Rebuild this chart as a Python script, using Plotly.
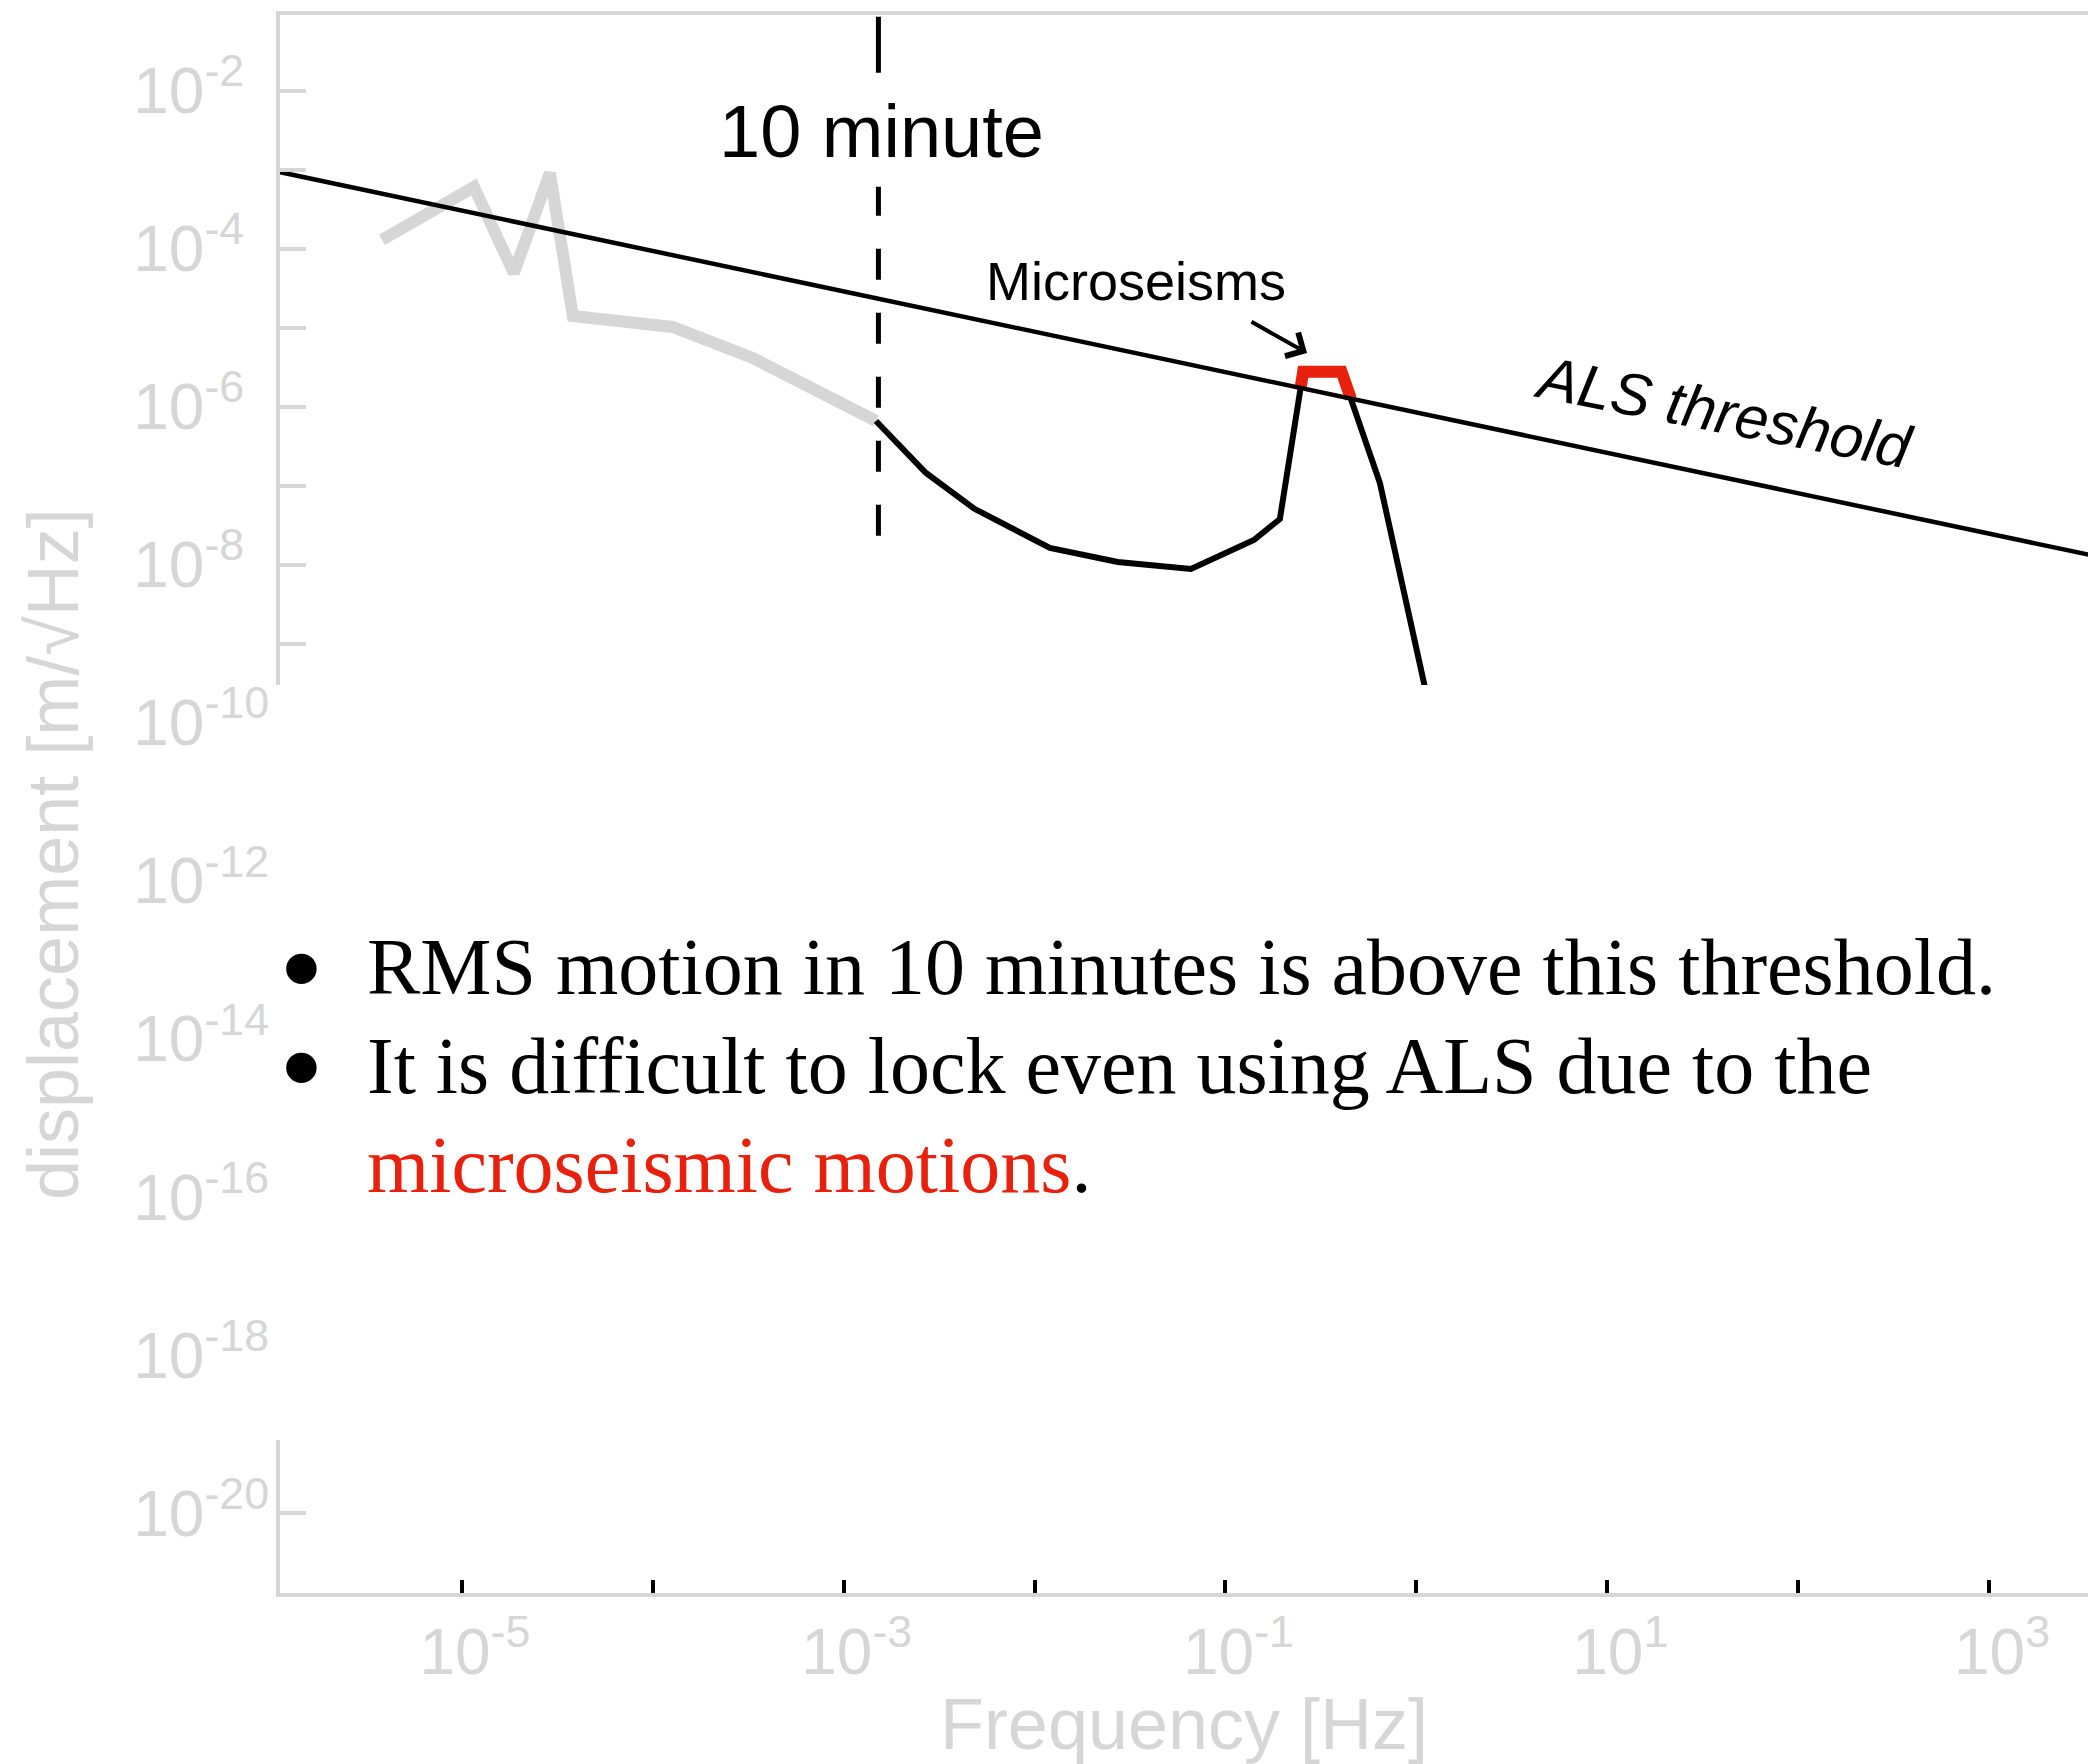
import math
import plotly.graph_objects as go

# ---- data -------------------------------------------------------------
# low-frequency part of the spectrum (light gray)
gray_freq = [3.81e-6, 1.156e-5, 1.871e-5, 2.891e-5, 3.81e-5, 1.271e-4, 3.334e-4, 1.476e-3]
gray_disp = [1.29e-4, 6.03e-4, 4.92e-5, 9.06e-4, 1.406e-5, 1.021e-5, 4.14e-6, 6.61e-7]

# spectrum above the 10 minute line (black)
black_freq = [1.476e-3, 2.698e-3, 4.864e-3, 1.202e-2, 2.729e-2, 6.592e-2,
              0.1409, 0.1928, 0.2553, 0.4055, 0.6442, 1.496]
black_disp = [6.61e-7, 1.452e-7, 5.08e-8, 1.633e-8, 1.086e-8, 8.85e-9,
              2.061e-8, 3.80e-8, 2.78e-6, 2.78e-6, 1.084e-7, 1.06e-11]

# microseismic peak, the part above the ALS threshold (red)
red_freq = [0.2474, 0.2553, 0.4055, 0.4539]
red_disp = [1.73e-6, 2.78e-6, 2.78e-6, 1.268e-6]

# ALS threshold line
threshold_freq = [1.0e-6, 3.8e3]
threshold_disp = [9.82e-4, 1.256e-8]

# 10 minute marker
ten_minute_freq = 1.52e-3
ten_minute_span = [2.34e-8, 8.89e-2]

# axis ticks
x_tick_vals = [1e-5, 1e-4, 1e-3, 1e-2, 1e-1, 1e0, 1e1, 1e2, 1e3]
x_tick_text = ["10<sup>-5</sup>", "", "10<sup>-3</sup>", "", "10<sup>-1</sup>", "",
               "10<sup>1</sup>", "", "10<sup>3</sup>"]
y_exponents = list(range(-21, -1))
y_tick_vals = [10.0 ** e for e in y_exponents]
# labels on even decades; one-digit exponents get a trailing figure space so
# all labels line up on their left edge
y_tick_text = [
    (f"10<sup>{e}</sup>" if e <= -10 else f"10<sup>{e}\u2007</sup>") if e % 2 == 0 else ""
    for e in y_exponents
]

x_range_hz = (1.114e-6, 3.30e3)
y_range_disp = (9.82e-22, 9.04e-2)

# ---- styling ----------------------------------------------------------
W, H = 2088, 1764
M_L, M_R, M_T, M_B = 280, 0, 15, 171
PLOT_W = W - M_L - M_R
PLOT_H = H - M_T - M_B

AXIS_GRAY = "#d6d6d6"
RED = "#e8210f"
SANS = "Liberation Sans, Arial, Helvetica, sans-serif"
SERIF = "Liberation Serif, Times New Roman, Times, serif"


def px(x):
    """page pixel column -> paper x"""
    return (x - M_L) / PLOT_W


def py(y):
    """page pixel row -> paper y"""
    return (H - M_B - y) / PLOT_H


fig = go.Figure()

fig.add_trace(go.Scatter(x=gray_freq, y=gray_disp, mode="lines",
                         line=dict(color=AXIS_GRAY, width=12), hoverinfo="skip"))
fig.add_trace(go.Scatter(x=black_freq, y=black_disp, mode="lines",
                         line=dict(color="black", width=6), hoverinfo="skip"))
fig.add_trace(go.Scatter(x=red_freq, y=red_disp, mode="lines",
                         line=dict(color=RED, width=12), hoverinfo="skip"))
fig.add_trace(go.Scatter(x=threshold_freq, y=threshold_disp, mode="lines",
                         line=dict(color="black", width=4.5), hoverinfo="skip"))
fig.add_trace(go.Scatter(x=[ten_minute_freq, ten_minute_freq], y=ten_minute_span,
                         mode="lines",
                         line=dict(color="black", width=5,
                                   dash="31px,33px,31px,33px,31px,33px,31px,33px,31px,33px,29px,114px,56px"),
                         hoverinfo="skip"))

# blank band behind the text block
fig.add_shape(type="rect", xref="paper", yref="paper",
              x0=px(273), x1=1.02, y0=py(1440), y1=py(685),
              fillcolor="white", line=dict(width=0), layer="above")

annotations = [
    dict(text="displacement [m/√Hz]", x=px(53), y=py(854), textangle=-90,
         font=dict(family=SANS, size=72, color=AXIS_GRAY)),
    dict(text="10 minute", x=px(881), y=py(131.5),
         font=dict(family=SANS, size=74, color="black")),
    dict(text="Microseisms", x=px(1136), y=py(281),
         font=dict(family=SANS, size=54, color="black")),
    dict(text="<i>ALS threshold</i>", x=px(1724), y=py(413), textangle=11,
         font=dict(family=SANS, size=60, color="black")),
    dict(text="", x=px(1307), y=py(353), showarrow=True, ax=-57, ay=-32,
         axref="pixel", ayref="pixel", arrowhead=4, arrowsize=1.3,
         arrowwidth=4, arrowcolor="black", standoff=0),
    dict(text="•", x=px(301), y=py(968), font=dict(family=SERIF, size=128, color="black")),
    dict(text="•", x=px(301), y=py(1067), font=dict(family=SERIF, size=128, color="black")),
    dict(text="RMS motion in 10 minutes is above this threshold.",
         x=px(365), y=py(967), xanchor="left",
         font=dict(family=SERIF, size=80, color="black")),
    dict(text="It is difficult to lock even using ALS due to the",
         x=px(365), y=py(1066), xanchor="left",
         font=dict(family=SERIF, size=80, color="black")),
    dict(text=f"<span style='color:{RED}'>microseismic motions</span>.",
         x=px(365), y=py(1165), xanchor="left",
         font=dict(family=SERIF, size=80, color="black")),
]
for a in annotations:
    a.setdefault("xref", "paper")
    a.setdefault("yref", "paper")
    a.setdefault("showarrow", False)
    a.setdefault("xanchor", "center")
    a.setdefault("yanchor", "middle")
    fig.add_annotation(**a)

fig.update_layout(
    template="none",
    width=W, height=H, autosize=False,
    margin=dict(l=M_L, r=M_R, t=M_T, b=M_B, pad=0),
    paper_bgcolor="white", plot_bgcolor="white",
    showlegend=False,
    xaxis=dict(
        type="log",
        range=[math.log10(x_range_hz[0]), math.log10(x_range_hz[1])],
        showgrid=False, zeroline=False, automargin=False,
        showline=True, linecolor=AXIS_GRAY, linewidth=4, mirror=True,
        ticks="inside", ticklen=13, tickwidth=4, tickcolor="black",
        tickmode="array", tickvals=x_tick_vals, ticktext=x_tick_text,
        tickfont=dict(family=SANS, size=64, color=AXIS_GRAY),
        ticklabelstandoff=0, ticklabelshift=13,
        title=dict(text="Frequency [Hz]", standoff=24,
                   font=dict(family=SANS, size=72, color=AXIS_GRAY)),
    ),
    yaxis=dict(
        type="log",
        range=[math.log10(y_range_disp[0]), math.log10(y_range_disp[1])],
        showgrid=False, zeroline=False, automargin=False,
        showline=True, linecolor=AXIS_GRAY, linewidth=4, mirror=False,
        ticks="inside", ticklen=26, tickwidth=4, tickcolor=AXIS_GRAY,
        tickmode="array", tickvals=y_tick_vals, ticktext=y_tick_text,
        tickfont=dict(family=SANS, size=64, color=AXIS_GRAY),
        ticklabelstandoff=-6,
    ),
)

fig.write_html("out.html", config={"displayModeBar": False})
